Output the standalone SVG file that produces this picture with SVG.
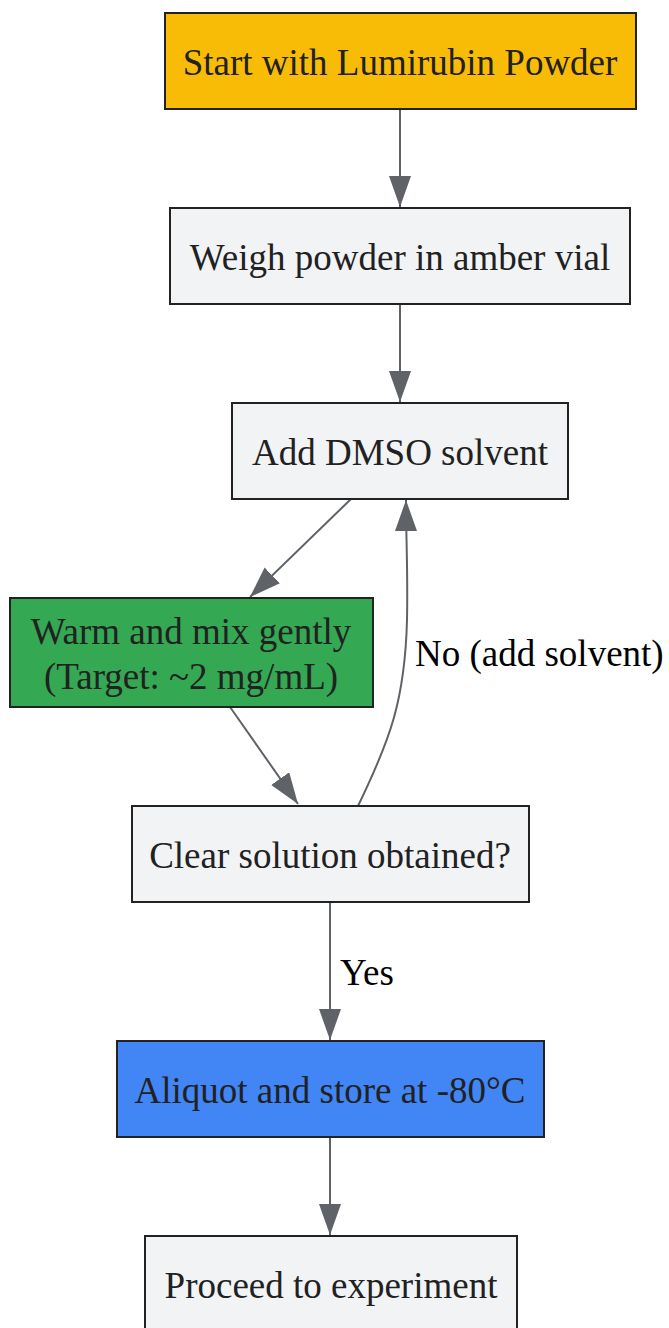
<svg xmlns="http://www.w3.org/2000/svg" width="669" height="1328" viewBox="0 0 669 1328">
<defs>
<style>
.node rect{stroke:#222;stroke-width:2}
.node text{font-family:"Liberation Serif",serif;font-size:37px;fill:#212121;text-anchor:middle}
.edge{fill:none;stroke:#5f6368;stroke-width:2}
.lbl{font-family:"Liberation Serif",serif;font-size:37px;fill:#000}
</style>
<marker id="ah" markerUnits="userSpaceOnUse" markerWidth="32" markerHeight="24" refX="31" refY="11" orient="auto">
<path d="M0,0 L31,11 L0,22 z" fill="#5f6368"/>
</marker>
</defs>
<rect width="669" height="1328" fill="#fff"/>
<g id="connectors">
<line class="edge" x1="400" y1="109" x2="400" y2="207" marker-end="url(#ah)"/>
<line class="edge" x1="400" y1="304" x2="400" y2="402" marker-end="url(#ah)"/>
<line class="edge" x1="351" y1="499" x2="250" y2="597" marker-end="url(#ah)"/>
<line class="edge" x1="230" y1="707" x2="298" y2="804" marker-end="url(#ah)"/>
<path class="edge" d="M358,806 C390,740 405,700 407,620 C408,570 406,540 406,500" marker-end="url(#ah)"/>
<line class="edge" x1="330" y1="902" x2="330" y2="1040" marker-end="url(#ah)"/>
<line class="edge" x1="330" y1="1137" x2="330" y2="1235" marker-end="url(#ah)"/>
<text class="lbl" x="415" y="666">No (add solvent)</text>
<text class="lbl" x="340" y="985">Yes</text>
</g>
<g id="start" class="node"><rect x="165" y="13" width="471" height="96" fill="#f9bc06"/><text x="400" y="75">Start with Lumirubin Powder</text></g>
<g id="weigh" class="node"><rect x="170" y="208" width="460" height="96" fill="#f1f3f5"/><text x="400" y="270">Weigh powder in amber vial</text></g>
<g id="dmso" class="node"><rect x="232" y="403" width="336" height="96" fill="#f1f3f5"/><text x="400" y="465">Add DMSO solvent</text></g>
<g id="warm" class="node"><rect x="10" y="598" width="363" height="109" fill="#34a853"/><text x="191" y="644">Warm and mix gently</text><text x="191" y="689">(Target: ~2 mg/mL)</text></g>
<g id="clear" class="node"><rect x="132" y="806" width="397" height="96" fill="#f1f3f5"/><text x="330" y="868">Clear solution obtained?</text></g>
<g id="aliquot" class="node"><rect x="117" y="1041" width="427" height="96" fill="#4285f4"/><text x="330" y="1103">Aliquot and store at -80°C</text></g>
<g id="proceed" class="node"><rect x="145" y="1236" width="372" height="96" fill="#f1f3f5"/><text x="331" y="1298">Proceed to experiment</text></g>
</svg>
